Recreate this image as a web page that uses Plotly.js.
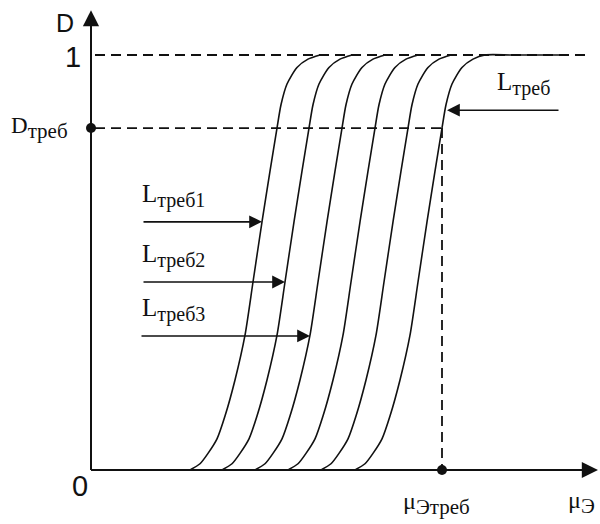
<!DOCTYPE html>
<html>
<head>
<meta charset="utf-8">
<script src="https://cdn.plot.ly/plotly-3.0.1.min.js"></script>
<style>html,body{margin:0;padding:0;background:#fff}#chart{width:600px;height:524px}</style>
</head>
<body>
<div id="chart"></div>
<script>
// Probability D (0..1) for each curve, shared sample levels
const dLevels = [0, 0.015, 0.04, 0.075, 0.13, 0.217, 0.325, 0.453, 0.598, 0.72, 0.824, 0.88, 0.93, 0.97, 0.99, 1];
// μЭ positions (chart units) of each curve at those levels
const curve1 = [99, 109, 117, 126, 134, 144, 154, 162, 171, 179, 186, 190, 196, 206, 217, 229];
const curve2 = [131, 141, 149, 158, 166, 176, 186, 194, 203, 211, 218, 222, 228, 238, 249, 261];
const curve3 = [164, 174, 182, 191, 199, 209, 219, 227, 236, 244, 251, 255, 261, 271, 282, 294];
const curve4 = [197, 207, 215, 224, 232, 242, 252, 260, 269, 277, 284, 288, 294, 304, 315, 327];
const curve5 = [230, 240, 248, 257, 265, 275, 285, 293, 302, 310, 317, 321, 327, 337, 348, 360];
const curve6 = [264, 274, 282, 291, 299, 309, 319, 327, 336, 344, 351, 355, 361, 371, 382, 394, 420, 446, 471];
const curve6D = [0, 0.015, 0.04, 0.075, 0.13, 0.217, 0.325, 0.453, 0.598, 0.72, 0.824, 0.88, 0.93, 0.97, 0.99, 1, 1, 1, 1];

const dReq = 0.824;      // D треб
const muReq = 351;       // μЭ треб
const xEnd = 507;        // x axis arrow tip
const yEnd = 1.108;      // y axis arrow tip
const dashEnd = 496;

const serifName = "Liberation Serif";
const serif = "Liberation Serif, Times New Roman, serif";
const sans = "Liberation Sans, Arial, sans-serif";

const curveStyle = {color: '#111', width: 1.6, shape: 'spline', smoothing: 0.7};
const traces = [curve1, curve2, curve3, curve4, curve5].map(c => ({
  x: c, y: dLevels, mode: 'lines', line: curveStyle, hoverinfo: 'skip'
}));
traces.push({x: curve6, y: curve6D, mode: 'lines', line: curveStyle, hoverinfo: 'skip'});
// dashed guides
const dash = {color: '#111', width: 1.8, dash: '10px,6px'};
traces.push({x: [4, dashEnd], y: [1, 1], mode: 'lines', line: dash, hoverinfo: 'skip'});
traces.push({x: [4, muReq], y: [dReq, dReq], mode: 'lines', line: dash, hoverinfo: 'skip'});
traces.push({x: [muReq, muReq], y: [dReq, 0], mode: 'lines', line: dash, hoverinfo: 'skip'});
// axis lines
const axisLine = {color: '#111', width: 2};
traces.push({x: [0, 0], y: [0, yEnd - 0.03], mode: 'lines', line: axisLine, hoverinfo: 'skip'});
traces.push({x: [0, xEnd - 10], y: [0, 0], mode: 'lines', line: axisLine, hoverinfo: 'skip'});
// points
traces.push({x: [0, muReq], y: [dReq, 0], mode: 'markers', marker: {color: '#111', size: 10}, cliponaxis: false, hoverinfo: 'skip'});

function arrow(x, y, ax, ay, size, width) {
  return {x: x, y: y, ax: ax, ay: ay, xref: 'x', yref: 'y', axref: 'x', ayref: 'y',
    text: '', showarrow: true, arrowhead: 2, arrowsize: size, arrowwidth: width, arrowcolor: '#111', standoff: 0, startstandoff: 0};
}
function label(text, x, y, size, family, xanchor, yanchor) {
  return {x: x, y: y, xref: 'x', yref: 'y', text: text, showarrow: false,
    font: {family: family, size: size, color: '#111'}, xanchor: xanchor, yanchor: yanchor};
}
function sub(main, s, subSize) {
  return main + '<sub><span style="font-family:' + serifName + ';font-size:' + subSize + 'px">' + s + '</span></sub>';
}

const annotations = [
  arrow(0, yEnd, 0, yEnd - 0.05, 1.8, 1.8),
  arrow(xEnd, 0, xEnd - 20, 0, 1.8, 1.8),
  arrow(171, 0.598, 51, 0.598, 1.6, 1.6),
  arrow(194, 0.453, 51, 0.453, 1.6, 1.6),
  arrow(219, 0.323, 49, 0.323, 1.6, 1.6),
  arrow(356, 0.867, 469, 0.867, 1.6, 1.6),
  label('D', -26, 1.077, 25, sans, 'center', 'middle'),
  label('1', -8, 0.995, 29, sans, 'right', 'middle'),
  label('0', -1, -0.039, 29, sans, 'right', 'middle'),
  label(sub('D', 'треб', 21), -21, dReq, 23, serif, 'right', 'middle'),
  label(sub('L', 'треб1', 20), 49, 0.66, 25, serif, 'left', 'middle'),
  label(sub('L', 'треб2', 20), 49, 0.515, 25, serif, 'left', 'middle'),
  label(sub('L', 'треб3', 20), 49, 0.385, 25, serif, 'left', 'middle'),
  label(sub('L', 'треб', 20), 404, 0.93, 25, serif, 'left', 'middle'),
  label(sub('μ', 'Этреб', 21), 310, -0.08, 24, serif, 'left', 'middle'),
  label(sub('μ', 'Э', 21), 475, -0.078, 24, serif, 'left', 'middle')
];

const layout = {
  width: 600, height: 524,
  margin: {l: 0, r: 0, t: 0, b: 0},
  paper_bgcolor: '#fff', plot_bgcolor: '#fff',
  showlegend: false,
  xaxis: {range: [-91, 509], visible: false, fixedrange: true},
  yaxis: {range: [-0.1301, 1.1325], visible: false, fixedrange: true},
  annotations: annotations
};
Plotly.newPlot('chart', traces, layout, {staticPlot: true, displayModeBar: false});
</script>
</body>
</html>
